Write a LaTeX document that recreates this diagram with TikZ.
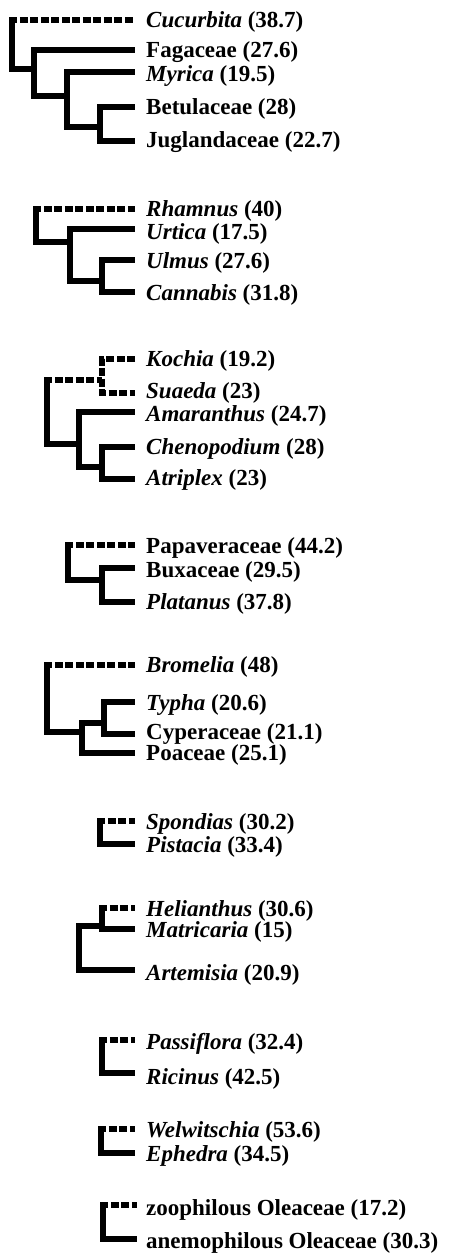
\documentclass[tikz,border=0pt]{standalone}
\usepackage{fontspec}
\setmainfont{Liberation Serif}
\begin{document}
\begin{tikzpicture}[x=1pt,y=1pt,
  br/.style={line width=5.5pt, line join=miter, line cap=butt},
  dsh/.style={br, dash pattern=on 8pt off 2.5pt},
  lab/.style={anchor=base west, inner sep=0pt, font=\fontsize{23}{26}\selectfont\bfseries}]
\useasboundingbox (0,0) rectangle (449,-1260);

% ---------- tree 1 ----------
\coordinate (eCuc) at (135,-20);  \coordinate (eFag) at (135,-50);
\coordinate (eMyr) at (135,-72);  \coordinate (eBet) at (135,-107);
\coordinate (eJug) at (135,-141);
\coordinate (t1r) at (12,-20);  \coordinate (t1n2) at (34,-69);
\coordinate (t1n3) at (67,-96); \coordinate (t1n4) at (100,-127);
\node[lab] (Cuc) at (146,-27.8) {\textit{Cucurbita} (38.7)};
\node[lab] (Fag) at (146,-57.8) {Fagaceae (27.6)};
\node[lab] (Myr) at (146,-81.8) {\textit{Myrica} (19.5)};
\node[lab] (Bet) at (146,-114.8) {Betulaceae (28)};
\node[lab] (Jug) at (146,-147.8) {Juglandaceae (22.7)};
\draw[dsh, shorten <=-2.75pt] (t1r) -- (eCuc);
\draw[br] (t1r) |- (t1n2) |- (eFag);
\draw[br] (t1n2) |- (t1n3) |- (eMyr);
\draw[br] (t1n3) |- (t1n4) |- (eBet);
\draw[br] (t1n4) |- (eJug);

% ---------- tree 2 ----------
\coordinate (eRha) at (135,-209); \coordinate (eUrt) at (135,-229);
\coordinate (eUlm) at (135,-260); \coordinate (eCan) at (135,-292);
\coordinate (t2r) at (36,-209); \coordinate (t2n2) at (70,-242);
\coordinate (t2n3) at (102,-281);
\node[lab] (Rha) at (146,-216.8) {\textit{Rhamnus} (40)};
\node[lab] (Urt) at (146,-239.3) {\textit{Urtica} (17.5)};
\node[lab] (Ulm) at (146,-268.8) {\textit{Ulmus} (27.6)};
\node[lab] (Can) at (146,-300.8) {\textit{Cannabis} (31.8)};
\draw[dsh, shorten <=-2.75pt] (t2r) -- (eRha);
\draw[br] (t2r) |- (t2n2) |- (eUrt);
\draw[br] (t2n2) |- (t2n3) |- (eUlm);
\draw[br] (t2n3) |- (eCan);

% ---------- tree 3 ----------
\coordinate (eKoc) at (135,-359); \coordinate (eSua) at (135,-393);
\coordinate (eAma) at (135,-412); \coordinate (eChe) at (135,-447);
\coordinate (eAtr) at (135,-479);
\coordinate (t3r) at (47,-380); \coordinate (t3k) at (102,-380);
\coordinate (t3n2) at (79,-444); \coordinate (t3n3) at (102,-467);
\node[lab] (Koc) at (146,-366.8) {\textit{Kochia} (19.2)};
\node[lab] (Sua) at (146,-398.8) {\textit{Suaeda} (23)};
\node[lab] (Ama) at (146,-421.8) {\textit{Amaranthus} (24.7)};
\node[lab] (Che) at (146,-454.8) {\textit{Chenopodium} (28)};
\node[lab] (Atr) at (146,-485.8) {\textit{Atriplex} (23)};
\draw[dsh, shorten <=-2.75pt] (t3r) -- (t3k);
\draw[dsh] (eKoc) -- (eKoc -| t3k) -- (eSua -| t3k) -- (eSua);
\draw[br] (t3r) |- (t3n2) |- (eAma);
\draw[br] (t3n2) |- (t3n3) |- (eChe);
\draw[br] (t3n3) |- (eAtr);

% ---------- tree 4 ----------
\coordinate (ePap) at (135,-545); \coordinate (eBux) at (135,-568);
\coordinate (ePla) at (135,-602);
\coordinate (t4r) at (68,-545); \coordinate (t4n2) at (102,-580);
\node[lab] (Pap) at (146,-553.8) {Papaveraceae (44.2)};
\node[lab] (Bux) at (146,-577.8) {Buxaceae (29.5)};
\node[lab] (Pla) at (146,-609.8) {\textit{Platanus} (37.8)};
\draw[dsh, shorten <=-2.75pt] (t4r) -- (ePap);
\draw[br] (t4r) |- (t4n2) |- (eBux);
\draw[br] (t4n2) |- (ePla);

% ---------- tree 5 ----------
\coordinate (eBro) at (135,-665); \coordinate (eTyp) at (135,-702);
\coordinate (eCyp) at (135,-734); \coordinate (ePoa) at (135,-753);
\coordinate (t5r) at (47,-665); \coordinate (t5n2) at (82,-732);
\coordinate (t5n3) at (104,-723);
\node[lab] (Bro) at (146,-672.8) {\textit{Bromelia} (48)};
\node[lab] (Typ) at (146,-710.8) {\textit{Typha} (20.6)};
\node[lab] (Cyp) at (146,-739.8) {Cyperaceae (21.1)};
\node[lab] (Poa) at (146,-760.8) {Poaceae (25.1)};
\draw[dsh, shorten <=-2.75pt] (t5r) -- (eBro);
\draw[br] (t5r) |- (t5n2) |- (t5n3) |- (eTyp);
\draw[br] (t5n2) |- (ePoa);
\draw[br] (t5n3) |- (eCyp);

% ---------- tree 6 ----------
\coordinate (eSpo) at (135,-821); \coordinate (ePis) at (135,-844);
\coordinate (t6r) at (100,-821);
\node[lab] (Spo) at (146,-829.8) {\textit{Spondias} (30.2)};
\node[lab] (Pis) at (146,-852.8) {\textit{Pistacia} (33.4)};
\draw[dsh, shorten <=-2.75pt] (t6r) -- (eSpo);
\draw[br] (t6r) |- (ePis);

% ---------- tree 7 ----------
\coordinate (eHel) at (135,-908); \coordinate (eMat) at (135,-929);
\coordinate (eArt) at (135,-970);
\coordinate (t7h) at (102,-908); \coordinate (t7r) at (79,-926);
\coordinate (t7n2) at (102,-926);
\node[lab] (Hel) at (146,-916.8) {\textit{Helianthus} (30.6)};
\node[lab] (Mat) at (146,-937.8) {\textit{Matricaria} (15)};
\node[lab] (Art) at (146,-980.8) {\textit{Artemisia} (20.9)};
\draw[dsh, shorten <=-2.75pt] (t7h) -- (eHel);
\draw[br] (t7h) |- (eMat);
\draw[br] (eArt) -| (t7r) -- (t7n2);

% ---------- tree 8 ----------
\coordinate (ePas) at (135,-1040); \coordinate (eRic) at (135,-1073);
\coordinate (t8r) at (102,-1040);
\node[lab] (Pas) at (146,-1049.8) {\textit{Passiflora} (32.4)};
\node[lab] (Ric) at (146,-1084.8) {\textit{Ricinus} (42.5)};
\draw[dsh, shorten <=-2.75pt] (t8r) -- (ePas);
\draw[br] (t8r) |- (eRic);

% ---------- tree 9 ----------
\coordinate (eWel) at (135,-1129); \coordinate (eEph) at (135,-1153);
\coordinate (t9r) at (101,-1129);
\node[lab] (Wel) at (146,-1137.8) {\textit{Welwitschia} (53.6)};
\node[lab] (Eph) at (146,-1161.8) {\textit{Ephedra} (34.5)};
\draw[dsh, shorten <=-2.75pt] (t9r) -- (eWel);
\draw[br] (t9r) |- (eEph);

% ---------- tree 10 ----------
\coordinate (eZoo) at (137,-1205); \coordinate (eAne) at (137,-1239);
\coordinate (t10r) at (103,-1205);
\node[lab] (Zoo) at (146,-1215.8) {zoophilous Oleaceae (17.2)};
\node[lab] (Ane) at (146,-1248.8) {anemophilous Oleaceae (30.3)};
\draw[dsh, shorten <=-2.75pt] (t10r) -- (eZoo);
\draw[br] (t10r) |- (eAne);
\end{tikzpicture}
\end{document}
